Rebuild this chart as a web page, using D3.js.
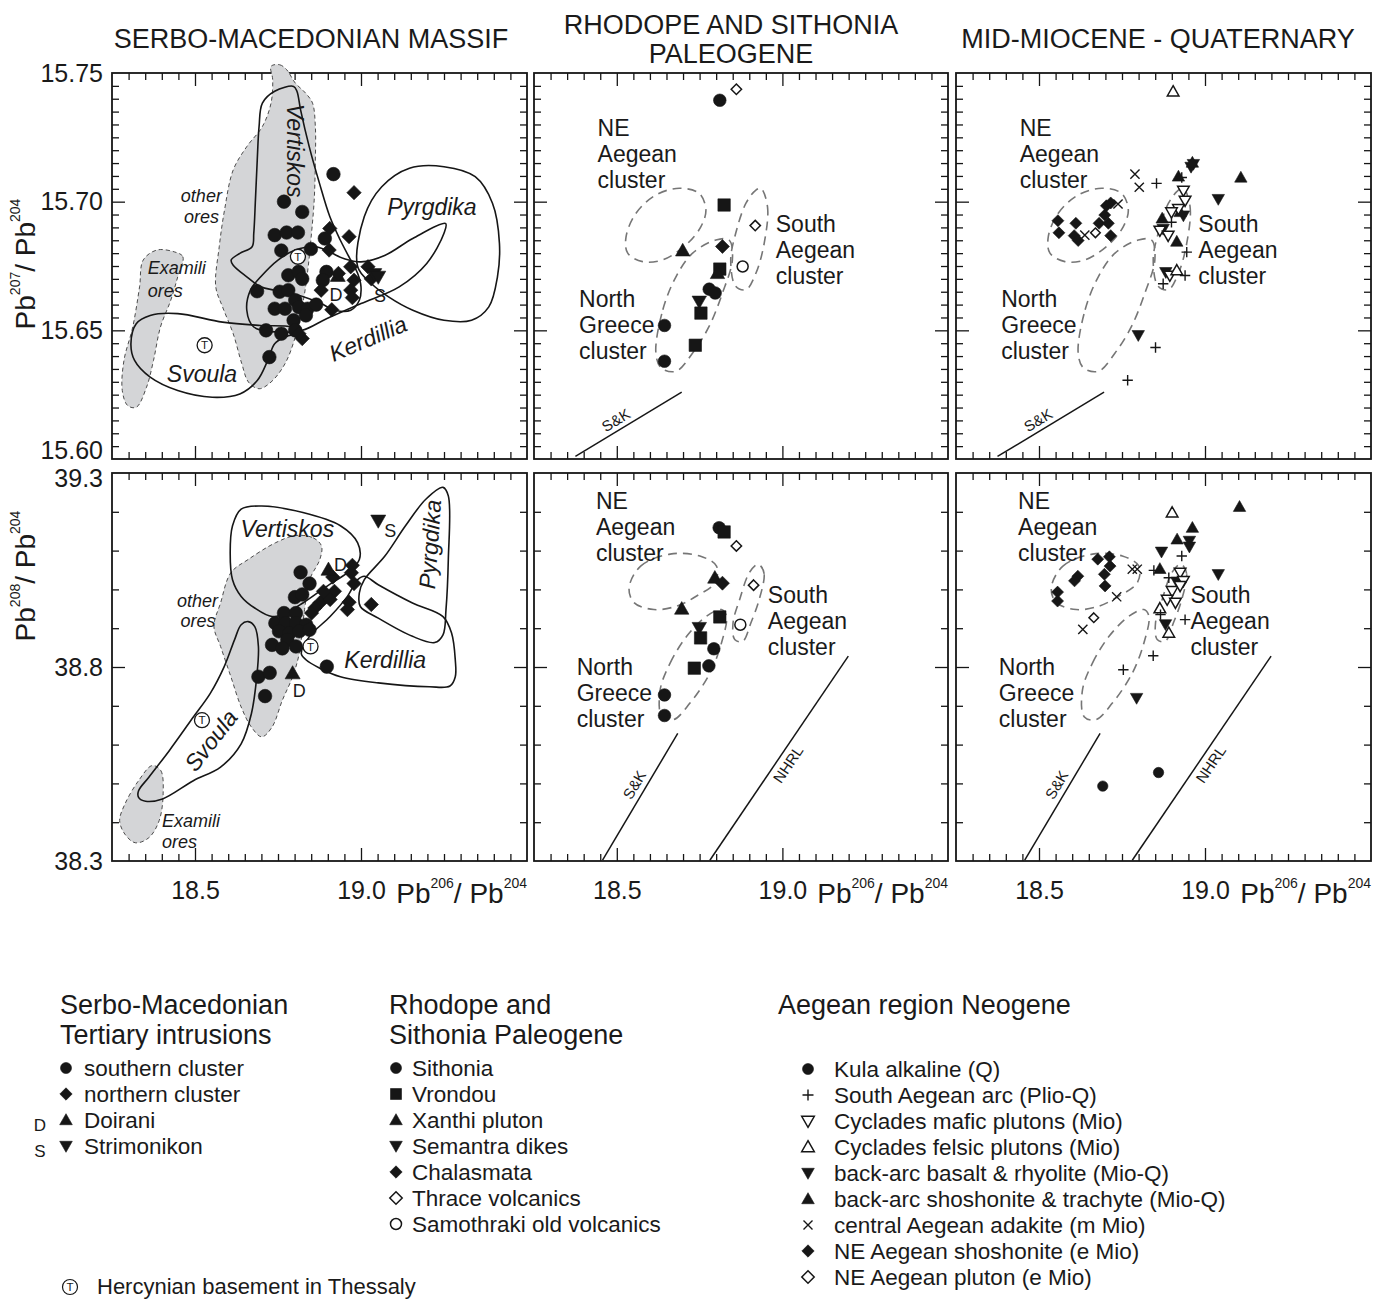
<!DOCTYPE html>
<html>
<head>
<meta charset="utf-8">
<title>Pb isotope diagrams</title>
<script src="https://cdn.jsdelivr.net/npm/d3@7"></script>
<style>
  body { margin: 0; background: #fff; }
  svg text { font-family: "Liberation Sans", Arial, Helvetica, sans-serif; fill: #1a1a1a; }
</style>
</head>
<body>
<svg id="fig" width="1375" height="1300"></svg>
<script>
// ---------- axes ----------
const xDomain = [18.25, 19.5];
const y76Domain = [15.60, 15.75];
const y86Domain = [38.3, 39.3];
const xLabelTicks = [18.5, 19.0];
const y76LabelTicks = [15.60, 15.65, 15.70, 15.75];
const y86LabelTicks = [38.3, 38.8, 39.3];
const y76Major = [15.65, 15.70];
const y86Major = [38.8];

// ---------- Serbo-Macedonian massif: 207/204 ----------
const smSouthern76 = [[18.917,15.7107],[18.768,15.700],[18.823,15.696],[18.740,15.687],[18.776,15.688],[18.810,15.688],
  [18.760,15.681],[18.849,15.6816],[18.891,15.6857],[18.781,15.6714],[18.812,15.6727],[18.823,15.670],[18.896,15.6727],
  [18.885,15.6695],[18.687,15.6652],[18.755,15.665],[18.781,15.6656],[18.740,15.6584],[18.771,15.6584],[18.802,15.6617],
  [18.813,15.659],[18.839,15.6584],[18.865,15.660],[18.797,15.6539],[18.834,15.6558],[18.714,15.650],[18.760,15.6487],
  [18.802,15.650],[18.724,15.6396]];
const smNorthern76 = [[18.979,15.7035],[18.906,15.6896],[18.964,15.6864],[18.904,15.6812],[18.932,15.6721],[18.969,15.6747],
  [18.979,15.6695],[18.969,15.6656],[19.021,15.6747],[19.031,15.670],[18.880,15.6656],[18.974,15.6627],[18.912,15.658],
  [18.823,15.6468],[18.813,15.6487]];
const smDoirani76 = [[18.93,15.6712]];
const smStrimonikon76 = [[19.040,15.6718],[19.052,15.6708]];
const thessaly76 = [[18.81,15.6786],[18.529,15.6442]];

const otherOres76 = [[18.729,15.7526],[18.755,15.7532],[18.776,15.7513],[18.802,15.7461],[18.833,15.7422],[18.854,15.7383],
  [18.8625,15.7292],[18.8625,15.7162],[18.859,15.7006],[18.849,15.6851],[18.8385,15.6721],[18.823,15.6591],[18.802,15.6474],
  [18.771,15.637],[18.729,15.6299],[18.693,15.6273],[18.661,15.6299],[18.641,15.637],[18.615,15.6487],[18.583,15.6591],
  [18.5625,15.6669],[18.573,15.6825],[18.589,15.6968],[18.615,15.7123],[18.656,15.7214],[18.703,15.7292],[18.729,15.7383],
  [18.734,15.7474]];
const examili76 = [[18.4375,15.6805],[18.4635,15.6786],[18.448,15.6708],[18.427,15.6617],[18.396,15.6513],[18.375,15.6383],
  [18.354,15.6279],[18.323,15.6201],[18.297,15.6208],[18.281,15.6266],[18.286,15.6383],[18.3125,15.6513],[18.333,15.6669],
  [18.344,15.6773],[18.385,15.6812]];
const vertiskos76 = [[18.797,15.7448],[18.740,15.7429],[18.703,15.7383],[18.693,15.7292],[18.6875,15.7162],[18.682,15.7006],
  [18.677,15.6877],[18.672,15.6825],[18.635,15.6799],[18.609,15.6773],[18.615,15.6753],[18.656,15.6708],[18.698,15.6669],
  [18.740,15.6656],[18.792,15.6643],[18.844,15.6623],[18.880,15.6604],[18.922,15.6578],[18.969,15.6578],[18.995,15.6617],
  [19.000,15.6669],[18.990,15.6721],[18.969,15.6773],[18.9375,15.6851],[18.906,15.6942],[18.875,15.7071],[18.844,15.7214],
  [18.818,15.7357],[18.807,15.7429]];
const pyrgdika76 = [[18.990,15.6747],[19.010,15.6942],[19.0625,15.7058],[19.146,15.713],[19.25,15.7136],[19.344,15.7097],
  [19.396,15.6994],[19.417,15.6838],[19.411,15.6708],[19.385,15.6591],[19.333,15.6539],[19.25,15.6539],[19.156,15.6578],
  [19.083,15.663],[19.031,15.6682]];
const kerdillia76 = [[18.656,15.6578],[18.667,15.6656],[18.698,15.6708],[18.75,15.6773],[18.802,15.6812],[18.865,15.6825],
  [18.948,15.6779],[19.0,15.6766],[19.073,15.6792],[19.156,15.6857],[19.255,15.6915],[19.25,15.6877],[19.198,15.676],
  [19.115,15.6669],[19.0,15.6604],[18.896,15.6545],[18.823,15.65],[18.740,15.6494],[18.677,15.6513]];
const svoula76 = [[18.307,15.6448],[18.323,15.6526],[18.365,15.6558],[18.448,15.6565],[18.583,15.6532],[18.698,15.6519],
  [18.792,15.6513],[18.823,15.6494],[18.771,15.6474],[18.740,15.6448],[18.719,15.6383],[18.6875,15.6305],[18.635,15.6253],
  [18.552,15.624],[18.448,15.6266],[18.365,15.6318],[18.318,15.6383]];

// ---------- Serbo-Macedonian massif: 208/204 ----------
const smSouthern86 = [[18.818,39.044],[18.845,39.015],[18.801,38.980],[18.823,38.987],[18.768,38.939],[18.804,38.939],
  [18.742,38.913],[18.773,38.913],[18.804,38.913],[18.835,38.909],[18.753,38.892],[18.784,38.887],[18.814,38.892],
  [18.845,38.896],[18.778,38.870],[18.732,38.857],[18.763,38.848],[18.804,38.853],[18.897,38.801],[18.691,38.775],
  [18.725,38.785],[18.711,38.725]];
const smNorthern86 = [[18.974,39.062],[18.971,39.043],[18.979,39.015],[18.915,39.032],[18.920,38.995],[18.897,38.982],
  [18.876,38.965],[18.861,38.952],[18.851,38.939],[18.964,38.967],[18.959,38.948],[19.031,38.961],[18.907,38.974],
  [18.887,38.995]];
const smDoirani86 = [[18.902,39.051],[18.794,38.784]];
const smStrimonikon86 = [[19.052,39.177]];
const thessaly86 = [[18.848,38.853],[18.521,38.663]];

const otherOres86 = [[18.804,39.139],[18.856,39.133],[18.881,39.112],[18.876,39.077],[18.845,39.025],[18.830,38.948],
  [18.814,38.835],[18.794,38.775],[18.763,38.714],[18.732,38.645],[18.701,38.620],[18.670,38.645],[18.639,38.697],
  [18.608,38.775],[18.577,38.853],[18.557,38.905],[18.577,38.965],[18.608,39.043],[18.660,39.077],[18.742,39.120]];
const examili86 = [[18.371,38.546],[18.397,38.533],[18.404,38.473],[18.392,38.404],[18.361,38.360],[18.320,38.347],
  [18.289,38.369],[18.273,38.404],[18.289,38.447],[18.330,38.507]];
const vertiskos86 = [[18.639,39.207],[18.701,39.215],[18.825,39.198],[18.938,39.164],[18.990,39.120],[18.995,39.077],
  [18.959,39.043],[18.897,39.008],[18.825,38.965],[18.773,38.939],[18.732,38.930],[18.680,38.952],[18.639,38.982],
  [18.613,39.025],[18.606,39.094],[18.613,39.164]];
const pyrgdika86 = [[19.247,39.263],[19.263,39.241],[19.263,39.077],[19.256,38.948],[19.247,38.883],[19.222,38.863],
  [19.155,38.879],[19.052,38.926],[18.998,38.956],[18.995,38.991],[19.010,39.025],[19.072,39.086],[19.134,39.164],
  [19.196,39.233]];
const kerdillia86 = [[18.820,38.835],[18.845,38.879],[18.907,38.930],[18.959,38.982],[18.990,39.025],[19.010,39.034],
  [19.052,39.012],[19.155,38.965],[19.247,38.930],[19.273,38.887],[19.284,38.818],[19.284,38.775],[19.268,38.751],
  [19.206,38.749],[19.052,38.759],[18.938,38.775],[18.876,38.797],[18.835,38.818]];
const svoula86 = [[18.330,38.464],[18.351,38.454],[18.402,38.460],[18.495,38.507],[18.577,38.542],[18.639,38.602],
  [18.670,38.680],[18.686,38.775],[18.691,38.853],[18.680,38.904],[18.660,38.917],[18.639,38.909],[18.619,38.870],
  [18.588,38.801],[18.546,38.732],[18.495,38.671],[18.423,38.585],[18.361,38.516],[18.330,38.481]];

// ---------- Rhodope and Sithonia Paleogene ----------
const sithonia76 = [[18.811,15.7394],[18.779,15.666],[18.797,15.6645],[18.644,15.6519],[18.644,15.638]];
const vrondou76 = [[18.824,15.6987],[18.811,15.6738],[18.754,15.6567],[18.737,15.6442]];
const xanthi76 = [[18.699,15.681],[18.804,15.6722]];
const semantra76 = [[18.749,15.6612]];
const chalasmata76 = [[18.819,15.6826]];
const thrace76 = [[18.861,15.7437],[18.918,15.6907]];
const samothraki76 = [[18.880,15.6748]];

const sithonia86 = [[18.809,39.159],[18.793,38.847],[18.778,38.803],[18.644,38.728],[18.644,38.675]];
const vrondou86 = [[18.824,39.148],[18.811,38.929],[18.753,38.875],[18.734,38.797]];
const xanthi86 = [[18.796,39.030],[18.696,38.950]];
const semantra86 = [[18.749,38.901]];
const chalasmata86 = [[18.819,39.016]];
const thrace86 = [[18.861,39.112],[18.913,39.011]];
const samothraki86 = [[18.873,38.909]];

// ---------- Mid-Miocene - Quaternary ----------
const kula76 = [];
const southArc76 = [[18.854,15.7071],[18.945,15.6804],[18.940,15.6713],[18.874,15.6681],[18.851,15.6433],[18.767,15.6306],
  [18.930,15.7094],[18.899,15.692]];
const cycMafic76 = [[18.935,15.7043],[18.940,15.7004],[18.920,15.6972],[18.899,15.6959],[18.864,15.6888],[18.889,15.6868],[18.894,15.6713]];
const cycFelsic76 = [[18.904,15.7428],[18.915,15.6733]];
const baBasalt76 = [[18.965,15.7146],[18.958,15.7135],[19.040,15.701],[18.882,15.6726],[18.799,15.6481],[18.935,15.6946],[18.874,15.6894]];
const baShosh76 = [[18.920,15.7098],[19.108,15.7094],[18.871,15.6935],[18.915,15.6845],[18.962,15.7152],[18.925,15.6960]];
const adakite76 = [[18.638,15.687],[18.738,15.6991],[18.789,15.7107],[18.802,15.7056]];
const neShosh76 = [[18.557,15.6926],[18.560,15.6879],[18.611,15.6916],[18.606,15.6868],[18.618,15.6849],[18.681,15.6916],
  [18.709,15.6916],[18.698,15.6948],[18.716,15.6868],[18.703,15.6984],[18.716,15.6995]];
const nePluton76 = [[18.670,15.6879]];

const kula86 = [[18.692,38.493],[18.860,38.528]];
const southArc86 = [[18.930,39.086],[18.846,39.049],[18.891,39.030],[18.940,38.922],[18.866,38.935],[18.844,38.829],[18.754,38.793]];
const cycMafic86 = [[18.925,39.043],[18.935,39.022],[18.901,38.996],[18.886,38.974],[18.911,38.966],[18.925,39.009]];
const cycFelsic86 = [[18.901,39.198],[18.864,38.951],[18.891,38.888]];
const baBasalt86 = [[18.869,39.097],[18.953,39.125],[18.953,39.110],[19.040,39.039],[18.794,38.720],[18.881,38.910],[18.915,39.020]];
const baShosh86 = [[19.104,39.213],[18.962,39.159],[18.916,39.129],[18.864,39.053]];
const adakite86 = [[18.781,39.052],[18.796,39.052],[18.734,38.981],[18.632,38.897]];
const neShosh86 = [[18.677,39.078],[18.712,39.084],[18.714,39.060],[18.697,39.039],[18.699,39.009],[18.617,39.034],
  [18.607,39.022],[18.556,38.993],[18.556,38.970]];
const nePluton86 = [[18.665,38.927]];

// ---------- cluster fields and reference lines (panels 2 and 3) ----------
const neField76 = [[18.528,15.6864],[18.558,15.6955],[18.618,15.7026],[18.689,15.7052],[18.749,15.7032],[18.769,15.6968],
  [18.754,15.6903],[18.709,15.6832],[18.639,15.6774],[18.578,15.6767],[18.533,15.68]];
const saField76 = [[18.935,15.7052],[18.955,15.6981],[18.945,15.6838],[18.920,15.6722],[18.890,15.6658],[18.859,15.6671],
  [18.844,15.6774],[18.859,15.6877],[18.890,15.6994],[18.920,15.7045]];
const ngField76 = [[18.618,15.6412],[18.639,15.658],[18.679,15.6709],[18.729,15.68],[18.799,15.6851],[18.839,15.6851],
  [18.849,15.6774],[18.819,15.6645],[18.779,15.6516],[18.729,15.6412],[18.679,15.6341],[18.634,15.6354]];
const neField86 = [[18.537,39.004],[18.572,39.060],[18.661,39.091],[18.751,39.086],[18.801,39.060],[18.796,39.017],
  [18.741,38.983],[18.681,38.957],[18.612,38.948],[18.552,38.966]];
const saField86 = [[18.935,39.060],[18.945,39.039],[18.930,38.974],[18.905,38.914],[18.880,38.866],[18.856,38.871],
  [18.851,38.914],[18.871,38.974],[18.900,39.043],[18.925,39.065]];
const ngField86 = [[18.631,38.741],[18.661,38.810],[18.711,38.879],[18.771,38.931],[18.816,38.948],[18.831,38.931],
  [18.816,38.862],[18.781,38.784],[18.721,38.707],[18.671,38.664],[18.636,38.672]];
const skLine76 = [[18.375,15.601],[18.696,15.626]];
const skLine86 = [[18.457,38.302],[18.684,38.629]];
const nhrlLine86 = [[18.781,38.302],[19.199,38.828]];

// ---------- page layout ----------
const COLS = [[112,527],[534,948],[956,1371]];
const ROWS = [[73,459],[473,861]];
const INK = '#161616';
const svg = d3.select('#fig');

function scalesFor(c, r) {
  return {
    x: d3.scaleLinear().domain(xDomain).range(COLS[c]),
    y: d3.scaleLinear().domain(r === 0 ? y76Domain : y86Domain).range([ROWS[r][1], ROWS[r][0]])
  };
}

// marker shapes for d3.symbol; size is the squared half-extent
const shapes = {
  circle:  { draw(p, s) { const r = Math.sqrt(s); p.moveTo(r, 0); p.arc(0, 0, r, 0, 2 * Math.PI); } },
  square:  { draw(p, s) { const r = Math.sqrt(s); p.rect(-r, -r, 2 * r, 2 * r); } },
  diamond: { draw(p, s) { const r = Math.sqrt(s); p.moveTo(0, -r); p.lineTo(r, 0); p.lineTo(0, r); p.lineTo(-r, 0); p.closePath(); } },
  triUp:   { draw(p, s) { const r = Math.sqrt(s); p.moveTo(0, -r); p.lineTo(r, 0.75 * r); p.lineTo(-r, 0.75 * r); p.closePath(); } },
  triDown: { draw(p, s) { const r = Math.sqrt(s); p.moveTo(0, r); p.lineTo(r, -0.75 * r); p.lineTo(-r, -0.75 * r); p.closePath(); } },
  plus:    { draw(p, s) { const r = Math.sqrt(s); p.moveTo(-r, 0); p.lineTo(r, 0); p.moveTo(0, -r); p.lineTo(0, r); } },
  times:   { draw(p, s) { const r = Math.sqrt(s); p.moveTo(-r, -r); p.lineTo(r, r); p.moveTo(r, -r); p.lineTo(-r, r); } }
};

function styleMarker(sel, kind) {
  sel.attr('fill', kind === 'filled' ? INK : kind === 'open' ? '#fff' : 'none')
     .attr('stroke', INK)
     .attr('stroke-width', kind === 'filled' ? 0.6 : kind === 'open' ? 1.5 : 1.4)
     .attr('stroke-linejoin', 'miter');
}

function drawPoints(g, sc, data, shape, kind, r) {
  g.append('g').selectAll('path').data(data).join('path')
    .attr('transform', d => `translate(${sc.x(d[0])},${sc.y(d[1])})`)
    .attr('d', d3.symbol().type(shapes[shape]).size(r * r))
    .call(styleMarker, kind);
}

function drawThessaly(g, sc, data, r) {
  const m = g.append('g').selectAll('g').data(data).join('g')
    .attr('transform', d => `translate(${sc.x(d[0])},${sc.y(d[1])})`);
  m.append('circle').attr('r', r).attr('fill', '#fff').attr('stroke', INK).attr('stroke-width', 1.3);
  m.append('text').text('T').attr('text-anchor', 'middle').attr('dy', '0.36em').attr('font-size', r * 1.55);
}

const closedCurve = sc => d3.line().x(d => sc.x(d[0])).y(d => sc.y(d[1])).curve(d3.curveCatmullRomClosed.alpha(0.5));

function drawField(g, sc, data, style) {
  const p = g.append('path').datum(data).attr('d', closedCurve(sc));
  if (style === 'grey') p.attr('fill', '#d4d5d7').attr('stroke', '#3a3a3a').attr('stroke-width', 0.9).attr('stroke-dasharray', '4,3');
  else if (style === 'solid') p.attr('fill', 'none').attr('stroke', INK).attr('stroke-width', 1.6);
  else p.attr('fill', 'none').attr('stroke', '#767676').attr('stroke-width', 1.6).attr('stroke-dasharray', '9,6');
}

function label(g, sc, pt, txt, o = {}) {
  return g.append('text')
    .attr('transform', `translate(${sc.x(pt[0])},${sc.y(pt[1])}) rotate(${o.rot || 0})`)
    .attr('text-anchor', o.anchor || 'middle').attr('dy', '0.35em')
    .attr('font-size', o.size || 22).attr('font-style', o.italic ? 'italic' : 'normal')
    .text(txt);
}

// reference line with its name written along it; positive offset puts the name above-left
function drawRefLine(g, sc, line, name, place) {
  const x1 = sc.x(line[0][0]), y1 = sc.y(line[0][1]), x2 = sc.x(line[1][0]), y2 = sc.y(line[1][1]);
  g.append('line').attr('x1', x1).attr('y1', y1).attr('x2', x2).attr('y2', y2)
    .attr('stroke', INK).attr('stroke-width', 1.5);
  const ang = Math.atan2(y2 - y1, x2 - x1);
  const mx = x1 + (x2 - x1) * place.t, my = y1 + (y2 - y1) * place.t;
  const nx = Math.sin(ang) * place.off, ny = -Math.cos(ang) * place.off;
  g.append('text')
    .attr('transform', `translate(${mx + nx},${my + ny}) rotate(${ang * 180 / Math.PI})`)
    .attr('text-anchor', 'middle').attr('dy', '0.35em').attr('font-size', 15).text(name);
}

function drawFrame(sc, r) {
  const g = svg.append('g');
  const [x0, x1] = sc.x.range();
  const [yb, yt] = sc.y.range();
  const xMinor = d3.range(1, 25).map(i => 18.25 + i * 0.05).filter(v => xLabelTicks.every(m => Math.abs(m - v) > 1e-6));
  const yMaj = r === 0 ? y76Major : y86Major;
  const yAll = r === 0 ? d3.range(1, 30).map(i => 15.60 + i * 0.005) : d3.range(1, 10).map(i => 38.3 + i * 0.1);
  const yMinor = yAll.filter(v => yMaj.every(m => Math.abs(m - v) > 1e-6));
  const sets = [
    [() => d3.axisBottom(sc.x), `translate(0,${yb})`, xMinor, 7],
    [() => d3.axisBottom(sc.x), `translate(0,${yb})`, xLabelTicks, 13],
    [() => d3.axisTop(sc.x), `translate(0,${yt})`, xMinor, 7],
    [() => d3.axisTop(sc.x), `translate(0,${yt})`, xLabelTicks, 13],
    [() => d3.axisLeft(sc.y), `translate(${x0},0)`, yMinor, 7],
    [() => d3.axisLeft(sc.y), `translate(${x0},0)`, yMaj, 13],
    [() => d3.axisRight(sc.y), `translate(${x1},0)`, yMinor, 7],
    [() => d3.axisRight(sc.y), `translate(${x1},0)`, yMaj, 13]
  ];
  sets.forEach(([mk, tr, vals, len]) => {
    g.append('g').attr('transform', tr)
      .call(mk().tickValues(vals).tickSize(-len).tickFormat(''))
      .call(a => a.select('.domain').remove())
      .call(a => a.selectAll('line').attr('stroke', INK).attr('stroke-width', 1.3));
  });
  g.append('rect').attr('x', x0).attr('y', yt).attr('width', x1 - x0).attr('height', yb - yt)
    .attr('fill', 'none').attr('stroke', INK).attr('stroke-width', 1.8);
  return g;
}

function pbRatio(textSel, top, bottom) {
  textSel.append('tspan').attr('font-size', 28).text('Pb');
  textSel.append('tspan').attr('font-size', 14).attr('dy', -15).text(top);
  textSel.append('tspan').attr('font-size', 28).attr('dy', 15).text('/ Pb');
  textSel.append('tspan').attr('font-size', 14).attr('dy', -15).text(bottom);
}

// ---------- titles ----------
[[311, 48, 'SERBO-MACEDONIAN MASSIF'], [731, 34, 'RHODOPE AND SITHONIA'], [731, 63, 'PALEOGENE'], [1158, 48, 'MID-MIOCENE - QUATERNARY']]
  .forEach(([x, y, t]) => svg.append('text').attr('x', x).attr('y', y).attr('text-anchor', 'middle').attr('font-size', 27).text(t));

// ---------- frames, ticks and tick labels ----------
for (let r = 0; r < 2; r++) {
  for (let c = 0; c < 3; c++) {
    const sc = scalesFor(c, r);
    drawFrame(sc, r);
    if (c === 0) {
      const yl = svg.append('g').attr('transform', `translate(${COLS[0][0]},0)`)
        .call(d3.axisLeft(sc.y).tickValues(r === 0 ? y76LabelTicks : y86LabelTicks)
          .tickFormat(d3.format(r === 0 ? '.2f' : '.1f')).tickSize(0).tickPadding(9))
        .attr('font-size', 25);
      yl.select('.domain').remove();
      // the two labels meeting between the rows are pushed apart
      yl.selectAll('.tick').filter(d => Math.abs(d - 15.60) < 1e-9).select('text').attr('transform', 'translate(0,-9)');
      yl.selectAll('.tick').filter(d => Math.abs(d - 39.3) < 1e-9).select('text').attr('transform', 'translate(0,5)');
    }
    if (r === 1) {
      const xl = svg.append('g').attr('transform', `translate(0,${ROWS[1][1]})`)
        .call(d3.axisBottom(sc.x).tickValues(xLabelTicks).tickFormat(d3.format('.1f')).tickSize(0).tickPadding(20))
        .attr('font-size', 25);
      xl.select('.domain').remove();
      const t = svg.append('text').attr('x', COLS[c][1]).attr('y', 903).attr('text-anchor', 'end');
      pbRatio(t, '206', '204');
    }
  }
}
pbRatio(svg.append('text').attr('transform', 'translate(35,264) rotate(-90)').attr('text-anchor', 'middle'), '207', '204');
pbRatio(svg.append('text').attr('transform', 'translate(35,576) rotate(-90)').attr('text-anchor', 'middle'), '208', '204');

// ---------- panel 1: Serbo-Macedonian massif ----------
{
  const sc = scalesFor(0, 0), g = svg.append('g');
  drawField(g, sc, otherOres76, 'grey');
  drawField(g, sc, examili76, 'grey');
  [vertiskos76, pyrgdika76, kerdillia76, svoula76].forEach(f => drawField(g, sc, f, 'solid'));
  drawPoints(g, sc, smDoirani76, 'triUp', 'filled', 7.5);
  drawPoints(g, sc, smSouthern76, 'circle', 'filled', 6.8);
  drawPoints(g, sc, smNorthern76, 'diamond', 'filled', 7.2);
  drawPoints(g, sc, smStrimonikon76, 'triDown', 'filled', 7.5);
  drawThessaly(g, sc, thessaly76, 7.5);
  label(g, sc, [18.802, 15.7198], 'Vertiskos', { italic: true, size: 23, rot: 90 });
  label(g, sc, [19.2135, 15.698], 'Pyrgdika', { italic: true, size: 23 });
  label(g, sc, [19.021, 15.6468], 'Kerdillia', { italic: true, size: 23, rot: -23 });
  label(g, sc, [18.521, 15.6331], 'Svoula', { italic: true, size: 23 });
  label(g, sc, [18.581, 15.7022], 'other', { italic: true, size: 18, anchor: 'end' });
  label(g, sc, [18.572, 15.6940], 'ores', { italic: true, size: 18, anchor: 'end' });
  label(g, sc, [18.358, 15.6742], 'Examili', { italic: true, size: 18, anchor: 'start' });
  label(g, sc, [18.358, 15.6653], 'ores', { italic: true, size: 18, anchor: 'start' });
  label(g, sc, [18.925, 15.6637], 'D', { size: 18 });
  label(g, sc, [19.057, 15.6633], 'S', { size: 18 });
}
{
  const sc = scalesFor(0, 1), g = svg.append('g');
  drawField(g, sc, otherOres86, 'grey');
  drawField(g, sc, examili86, 'grey');
  [vertiskos86, pyrgdika86, kerdillia86, svoula86].forEach(f => drawField(g, sc, f, 'solid'));
  drawPoints(g, sc, smSouthern86, 'circle', 'filled', 6.8);
  drawPoints(g, sc, smNorthern86, 'diamond', 'filled', 7.2);
  drawPoints(g, sc, smDoirani86, 'triUp', 'filled', 7.5);
  drawPoints(g, sc, smStrimonikon86, 'triDown', 'filled', 7.5);
  drawThessaly(g, sc, thessaly86, 7.5);
  label(g, sc, [18.778, 39.156], 'Vertiskos', { italic: true, size: 23 });
  label(g, sc, [19.208, 39.116], 'Pyrgdika', { italic: true, size: 23, rot: -86 });
  label(g, sc, [19.073, 38.818], 'Kerdillia', { italic: true, size: 23 });
  label(g, sc, [18.548, 38.611], 'Svoula', { italic: true, size: 23, rot: -52 });
  label(g, sc, [18.569, 38.970], 'other', { italic: true, size: 18, anchor: 'end' });
  label(g, sc, [18.562, 38.919], 'ores', { italic: true, size: 18, anchor: 'end' });
  label(g, sc, [18.4006, 38.403], 'Examili', { italic: true, size: 18, anchor: 'start' });
  label(g, sc, [18.4006, 38.349], 'ores', { italic: true, size: 18, anchor: 'start' });
  label(g, sc, [18.938, 39.064], 'D', { size: 18 });
  label(g, sc, [18.814, 38.740], 'D', { size: 18 });
  label(g, sc, [19.088, 39.151], 'S', { size: 18 });
}

// ---------- cluster fields shared by panels 2 and 3 ----------
const clusterText76 = [[['NE', 'Aegean', 'cluster'], [18.442, 15.7286]], [['South', 'Aegean', 'cluster'], [18.980, 15.6913]], [['North', 'Greece', 'cluster'], [18.386, 15.6622]]];
const clusterText86 = [[['NE', 'Aegean', 'cluster'], [18.437, 39.228]], [['South', 'Aegean', 'cluster'], [18.956, 38.986]], [['North', 'Greece', 'cluster'], [18.379, 38.800]]];

function drawClusterBackdrop(g, sc, r) {
  const fields = r === 0 ? [neField76, saField76, ngField76] : [neField86, saField86, ngField86];
  fields.forEach(f => drawField(g, sc, f, 'dashed'));
  (r === 0 ? clusterText76 : clusterText86).forEach(([lines, pt]) => {
    const x = sc.x(pt[0]), y = sc.y(pt[1]);
    lines.forEach((ln, i) => g.append('text').attr('x', x).attr('y', y + i * 26).attr('dy', '0.35em')
      .attr('font-size', 23).text(ln));
  });
  if (r === 0) drawRefLine(g, sc, skLine76, 'S&K', { t: 0.43, off: 10 });
  else {
    drawRefLine(g, sc, skLine86, 'S&K', { t: 0.55, off: 11 });
    drawRefLine(g, sc, nhrlLine86, 'NHRL', { t: 0.5, off: -11 });
  }
}

// ---------- panel 2: Rhodope and Sithonia Paleogene ----------
[[0, [sithonia76, vrondou76, xanthi76, semantra76, chalasmata76, thrace76, samothraki76]],
 [1, [sithonia86, vrondou86, xanthi86, semantra86, chalasmata86, thrace86, samothraki86]]].forEach(([r, s]) => {
  const sc = scalesFor(1, r), g = svg.append('g');
  drawClusterBackdrop(g, sc, r);
  drawPoints(g, sc, s[0], 'circle', 'filled', 6.3);
  drawPoints(g, sc, s[1], 'square', 'filled', 6.2);
  drawPoints(g, sc, s[2], 'triUp', 'filled', 7.2);
  drawPoints(g, sc, s[3], 'triDown', 'filled', 7.2);
  drawPoints(g, sc, s[4], 'diamond', 'filled', 7);
  drawPoints(g, sc, s[5], 'diamond', 'open', 5.2);
  drawPoints(g, sc, s[6], 'circle', 'open', 5.5);
});

// ---------- panel 3: mid-Miocene to Quaternary ----------
[[0, [kula76, southArc76, cycMafic76, cycFelsic76, baBasalt76, baShosh76, adakite76, neShosh76, nePluton76]],
 [1, [kula86, southArc86, cycMafic86, cycFelsic86, baBasalt86, baShosh86, adakite86, neShosh86, nePluton86]]].forEach(([r, s]) => {
  const sc = scalesFor(2, r), g = svg.append('g');
  drawClusterBackdrop(g, sc, r);
  drawPoints(g, sc, s[0], 'circle', 'filled', 5.2);
  drawPoints(g, sc, s[4], 'triDown', 'filled', 6.2);
  drawPoints(g, sc, s[5], 'triUp', 'filled', 6.2);
  drawPoints(g, sc, s[2], 'triDown', 'open', 5.8);
  drawPoints(g, sc, s[3], 'triUp', 'open', 5.8);
  drawPoints(g, sc, s[1], 'plus', 'line', 5.2);
  drawPoints(g, sc, s[6], 'times', 'line', 4.6);
  drawPoints(g, sc, s[7], 'diamond', 'filled', 6);
  drawPoints(g, sc, s[8], 'diamond', 'open', 4.8);
});

// ---------- legends ----------
const legendSerboTitle = ['Serbo-Macedonian', 'Tertiary intrusions'];
const legendSerbo = [['southern cluster', 'circle', 'filled', ''], ['northern cluster', 'diamond', 'filled', ''],
  ['Doirani', 'triUp', 'filled', 'D'], ['Strimonikon', 'triDown', 'filled', 'S']];
const legendRhodopeTitle = ['Rhodope and', 'Sithonia Paleogene'];
const legendRhodope = [['Sithonia', 'circle', 'filled'], ['Vrondou', 'square', 'filled'], ['Xanthi pluton', 'triUp', 'filled'],
  ['Semantra dikes', 'triDown', 'filled'], ['Chalasmata', 'diamond', 'filled'], ['Thrace volcanics', 'diamond', 'open'],
  ['Samothraki old volcanics', 'circle', 'open']];
const legendAegeanTitle = ['Aegean region Neogene'];
const legendAegean = [['Kula alkaline (Q)', 'circle', 'filled'], ['South Aegean arc (Plio-Q)', 'plus', 'line'],
  ['Cyclades mafic plutons (Mio)', 'triDown', 'open'], ['Cyclades felsic plutons (Mio)', 'triUp', 'open'],
  ['back-arc basalt & rhyolite (Mio-Q)', 'triDown', 'filled'], ['back-arc shoshonite & trachyte (Mio-Q)', 'triUp', 'filled'],
  ['central Aegean adakite (m Mio)', 'times', 'line'], ['NE Aegean shoshonite (e Mio)', 'diamond', 'filled'],
  ['NE Aegean pluton (e Mio)', 'diamond', 'open']];

const legendSize = { circle: 5.5, square: 5.5, triUp: 6.3, triDown: 6.3, diamond: 6.2, plus: 5.5, times: 4.5 };

function drawLegend(titleX, titleLines, items, symX, txtX, rowY0) {
  const g = svg.append('g');
  titleLines.forEach((t, i) => g.append('text').attr('x', titleX).attr('y', 1005 + i * 30).attr('dy', '0.35em')
    .attr('font-size', 27).text(t));
  items.forEach((it, i) => {
    const y = rowY0 + i * 26;
    g.append('path').attr('transform', `translate(${symX},${y})`)
      .attr('d', d3.symbol().type(shapes[it[1]]).size(legendSize[it[1]] ** 2)).call(styleMarker, it[2]);
    g.append('text').attr('x', txtX).attr('y', y).attr('dy', '0.35em').attr('font-size', 22.5).text(it[0]);
    if (it[3]) g.append('text').attr('x', 40).attr('y', y + 5).attr('dy', '0.35em').attr('text-anchor', 'middle')
      .attr('font-size', 17).text(it[3]);
  });
}
drawLegend(60, legendSerboTitle, legendSerbo, 66, 84, 1068);
drawLegend(389, legendRhodopeTitle, legendRhodope, 396, 412, 1068);
drawLegend(778, legendAegeanTitle, legendAegean, 808, 834, 1069);

// Thessaly basement key
{
  const k = svg.append('g').attr('transform', 'translate(70,1287)');
  k.append('circle').attr('r', 7.5).attr('fill', '#fff').attr('stroke', INK).attr('stroke-width', 1.2);
  k.append('text').text('T').attr('text-anchor', 'middle').attr('dy', '0.36em').attr('font-size', 11.5);
  svg.append('text').attr('x', 97).attr('y', 1286).attr('dy', '0.35em').attr('font-size', 22).text('Hercynian basement in Thessaly');
}
</script>
</body>
</html>
